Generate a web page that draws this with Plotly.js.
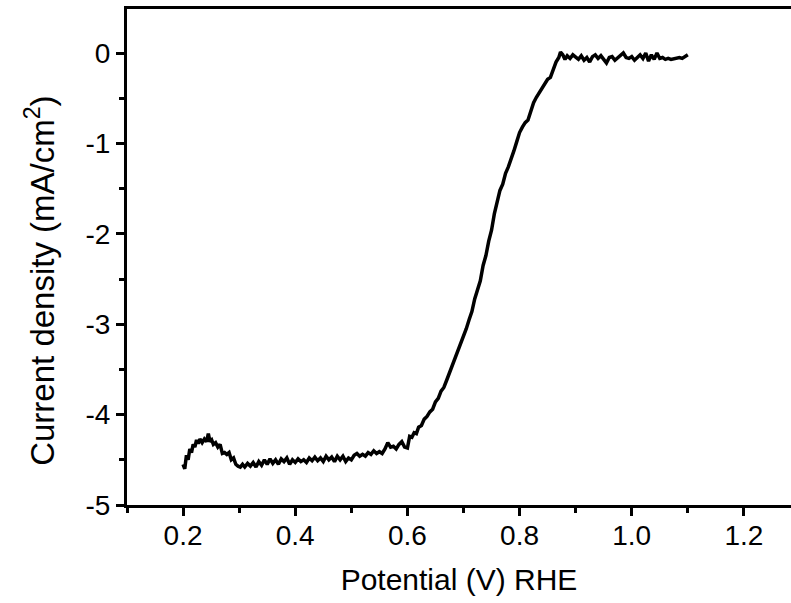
<!DOCTYPE html>
<html>
<head>
<meta charset="utf-8">
<script src="https://cdn.plot.ly/plotly-3.0.1.min.js"></script>
<style>html,body{margin:0;padding:0;background:#fff;}#chart{width:791px;height:603px;}</style>
</head>
<body>
<div id="chart"></div>
<script>
const potential = [0.200,0.203,0.206,0.209,0.212,0.215,0.218,0.221,0.224,0.227,0.230,0.234,0.238,0.242,0.245,0.248,0.251,0.254,0.258,0.262,0.266,0.270,0.274,0.278,0.282,0.286,0.290,0.294,0.298,0.302,0.306,0.310,0.315,0.320,0.325,0.330,0.335,0.340,0.345,0.350,0.355,0.360,0.365,0.370,0.375,0.380,0.385,0.390,0.395,0.400,0.405,0.410,0.415,0.420,0.425,0.430,0.435,0.440,0.445,0.450,0.455,0.460,0.465,0.470,0.475,0.480,0.485,0.490,0.495,0.500,0.505,0.510,0.515,0.520,0.525,0.530,0.535,0.540,0.545,0.550,0.555,0.560,0.565,0.570,0.575,0.580,0.585,0.590,0.595,0.600,0.604,0.608,0.612,0.616,0.620,0.625,0.630,0.635,0.640,0.645,0.650,0.655,0.660,0.665,0.670,0.675,0.680,0.685,0.690,0.695,0.700,0.705,0.710,0.715,0.720,0.725,0.730,0.735,0.740,0.745,0.750,0.755,0.760,0.765,0.770,0.775,0.780,0.785,0.790,0.795,0.800,0.805,0.810,0.815,0.820,0.825,0.830,0.835,0.840,0.845,0.850,0.855,0.860,0.865,0.870,0.873,0.877,0.881,0.885,0.890,0.895,0.900,0.905,0.910,0.915,0.920,0.925,0.930,0.935,0.940,0.945,0.950,0.955,0.960,0.965,0.970,0.975,0.980,0.985,0.990,0.995,1.000,1.005,1.010,1.015,1.020,1.025,1.030,1.035,1.040,1.045,1.050,1.055,1.060,1.065,1.070,1.075,1.080,1.085,1.090,1.095,1.100];
const currentDensity = [-4.55,-4.60,-4.45,-4.50,-4.38,-4.42,-4.33,-4.36,-4.28,-4.32,-4.27,-4.31,-4.27,-4.30,-4.21,-4.30,-4.28,-4.33,-4.31,-4.36,-4.33,-4.43,-4.42,-4.44,-4.42,-4.50,-4.48,-4.55,-4.57,-4.58,-4.55,-4.58,-4.54,-4.57,-4.53,-4.58,-4.52,-4.56,-4.50,-4.55,-4.49,-4.54,-4.50,-4.55,-4.49,-4.52,-4.48,-4.55,-4.50,-4.53,-4.49,-4.52,-4.50,-4.53,-4.48,-4.51,-4.47,-4.51,-4.48,-4.52,-4.46,-4.50,-4.47,-4.52,-4.46,-4.50,-4.46,-4.52,-4.48,-4.50,-4.45,-4.43,-4.46,-4.44,-4.46,-4.42,-4.44,-4.40,-4.43,-4.41,-4.43,-4.38,-4.31,-4.36,-4.35,-4.38,-4.33,-4.30,-4.36,-4.37,-4.24,-4.25,-4.20,-4.21,-4.14,-4.12,-4.05,-4.02,-3.97,-3.94,-3.86,-3.82,-3.74,-3.70,-3.62,-3.54,-3.45,-3.37,-3.30,-3.20,-3.13,-3.05,-2.95,-2.86,-2.72,-2.62,-2.52,-2.35,-2.24,-2.08,-1.96,-1.78,-1.66,-1.52,-1.45,-1.33,-1.26,-1.18,-1.08,-0.98,-0.88,-0.82,-0.77,-0.74,-0.64,-0.55,-0.49,-0.44,-0.40,-0.34,-0.29,-0.27,-0.17,-0.10,-0.05,0.01,-0.02,-0.07,-0.03,-0.06,-0.02,-0.05,-0.07,-0.03,-0.08,-0.05,-0.10,-0.04,-0.02,-0.06,-0.03,-0.07,-0.11,-0.05,-0.04,-0.08,-0.05,-0.03,0.00,-0.05,-0.06,-0.04,-0.08,-0.05,-0.02,-0.06,0.00,-0.09,-0.02,-0.07,0.00,-0.06,-0.05,-0.07,-0.06,-0.07,-0.06,-0.06,-0.05,-0.06,-0.04,-0.02];
const xTickVals = [0.2,0.4,0.6,0.8,1.0,1.2];
const xTickText = ["0.2","0.4","0.6","0.8","1.0","1.2"];
const yTickVals = [0,-1,-2,-3,-4,-5];
const yTickText = ["0","-1","-2","-3","-4","-5"];
const xTitle = 'Potential (V) RHE';
const yTitle = 'Current density (mA/cm<sup>2</sup>)';

const fontFam = "Liberation Sans, Arial, sans-serif";
const trace = {
  x: potential, y: currentDensity, type: 'scatter', mode: 'lines',
  line: {color: '#000', width: 3.5}, showlegend: false, hoverinfo: 'skip'
};
const layout = {
  width: 791, height: 603,
  margin: {l: 127, r: 0, t: 9, b: 98, pad: 0},
  paper_bgcolor: '#fff', plot_bgcolor: '#fff',
  font: {family: fontFam, size: 28, color: '#000'},
  xaxis: {
    range: [0.1, 1.284], showgrid: false, zeroline: false,
    showline: true, linecolor: '#000', linewidth: 3, mirror: true,
    ticks: 'outside', ticklen: 8, tickwidth: 3, tickcolor: '#000',
    tickmode: 'array', tickvals: xTickVals, ticktext: xTickText,
    tickfont: {family: fontFam, size: 28}, ticklabelstandoff: -5,
    minor: {ticks: 'outside', ticklen: 5, tickwidth: 3, tickcolor: '#000', dtick: 0.1, tick0: 0.1, showgrid: false},
    title: {text: xTitle, font: {family: fontFam, size: 30}, standoff: 20}
  },
  yaxis: {
    range: [-5, 0.487], showgrid: false, zeroline: false,
    showline: true, linecolor: '#000', linewidth: 3, mirror: false,
    ticks: 'outside', ticklen: 8, tickwidth: 3, tickcolor: '#000',
    tickmode: 'array', tickvals: yTickVals, ticktext: yTickText,
    tickfont: {family: fontFam, size: 28},
    minor: {ticks: 'outside', ticklen: 5, tickwidth: 3, tickcolor: '#000', dtick: 0.5, tick0: 0, showgrid: false}
  },
  annotations: [{
    text: yTitle, xref: 'paper', yref: 'paper',
    x: -0.131, y: 0.452, xanchor: 'center', yanchor: 'middle',
    textangle: -90, showarrow: false,
    font: {family: fontFam, size: 33, color: '#000'}
  }]
};
Plotly.newPlot('chart', [trace], layout, {displayModeBar: false, staticPlot: true});
</script>
</body>
</html>
